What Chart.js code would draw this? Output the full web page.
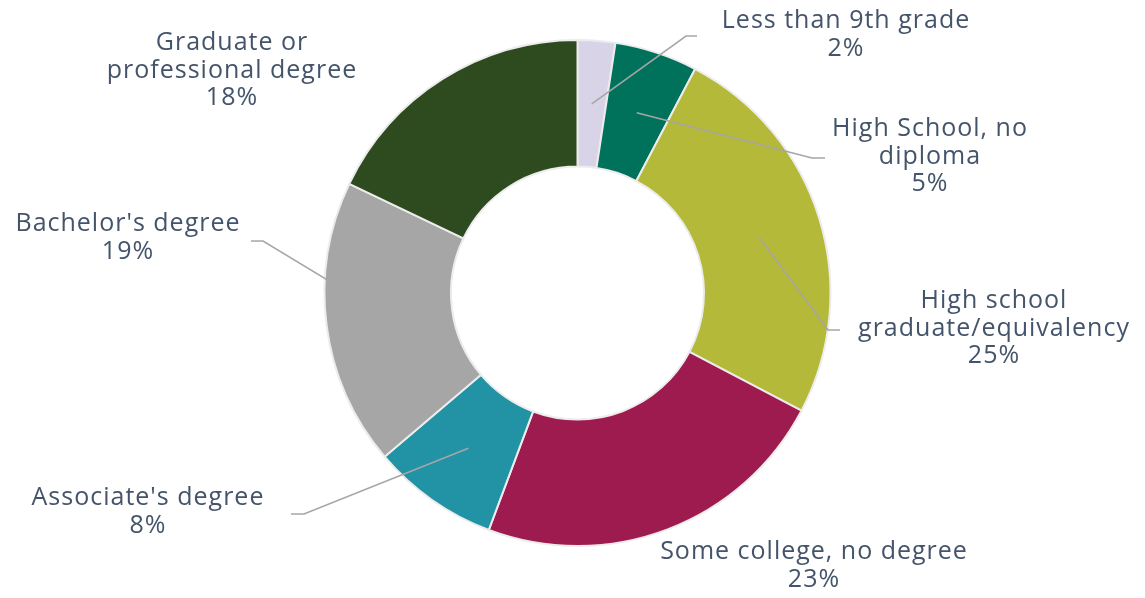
<!DOCTYPE html>
<html>
<head>
<meta charset="utf-8">
<script src="https://cdn.jsdelivr.net/npm/chart.js@4/dist/chart.umd.min.js"></script>
<style>
  html, body { margin: 0; padding: 0; background: #ffffff; }
  #wrap { width: 1145px; height: 598px; }
</style>
</head>
<body>
<div id="wrap"><canvas id="doughnutChart" width="1145" height="598"></canvas></div>
<script>
(function(){
    "use strict";

    // data (shares of the population, %)
    var categories = [
        ["Less than 9th grade"],
        ["High School, no", "diploma"],
        ["High school", "graduate/equivalency"],
        ["Some college, no degree"],
        ["Associate's degree"],
        ["Bachelor's degree"],
        ["Graduate or", "professional degree"]
    ];
    var values = [2.4, 5.3, 25.0, 23.0, 8.1, 18.3, 17.9];
    var percentLabels = ["2%", "5%", "25%", "23%", "8%", "19%", "18%"];
    var colors = ["#d9d3e8", "#00715b", "#b5b939", "#9e1b4f", "#2293a5", "#a6a6a6", "#2e4a1f"];

    // where each label sits (center x, middle of first line) and its leader elbow/end
    var labelLayout = [
        { x: 846, y: 21,  leader: [[686, 36], [697, 36]] },
        { x: 930, y: 129, leader: [[812, 158], [825, 158]] },
        { x: 994, y: 301, leader: [[828, 330], [840, 330]] },
        { x: 814, y: 552, leader: null },
        { x: 148, y: 498, leader: [[304, 514], [291, 514]] },
        { x: 128, y: 224, leader: [[263, 241], [251, 241]] },
        { x: 232, y: 43,  leader: null }
    ];

    var outerLabels = {
        id: "outerLabels",
        afterDraw: function(chart) {
            var ctx = chart.ctx;
            var arcs = chart.getDatasetMeta(0).data;
            ctx.save();
            // leader lines
            ctx.strokeStyle = "#a6a6a6";
            ctx.lineWidth = 1.6;
            arcs.forEach(function(arc, i) {
                var lay = labelLayout[i];
                if (!lay.leader) return;
                var p = arc.getCenterPoint();
                ctx.beginPath();
                ctx.moveTo(p.x, p.y);
                lay.leader.forEach(function(pt) { ctx.lineTo(pt[0], pt[1]); });
                ctx.stroke();
            });
            // texts
            ctx.fillStyle = "#44546a";
            ctx.font = "25px 'Open Sans'";
            ctx.letterSpacing = "1px";
            ctx.textAlign = "center";
            ctx.textBaseline = "middle";
            var lh = 27.5;
            categories.forEach(function(lines, i) {
                var lay = labelLayout[i];
                var all = lines.concat([percentLabels[i]]);
                all.forEach(function(t, k) {
                    ctx.fillText(t, lay.x, lay.y + k * lh);
                });
            });
            ctx.restore();
        }
    };

    var chartArea = document.querySelector("#doughnutChart");
    var doughnutChart = new Chart(chartArea, {
        type: "doughnut",
        data: {
            labels: categories,
            datasets: [
                {
                    data: values,
                    backgroundColor: colors,
                    borderColor: "#ececec",
                    borderWidth: 2
                }
            ]
        },
        options: {
            responsive: false,
            animation: false,
            cutout: "50%",
            layout: { padding: { top: 39, bottom: 51, left: 10, right: 0 } },
            plugins: {
                legend: { display: false },
                tooltip: { enabled: false }
            }
        },
        plugins: [outerLabels]
    });

})();
</script>
</body>
</html>
